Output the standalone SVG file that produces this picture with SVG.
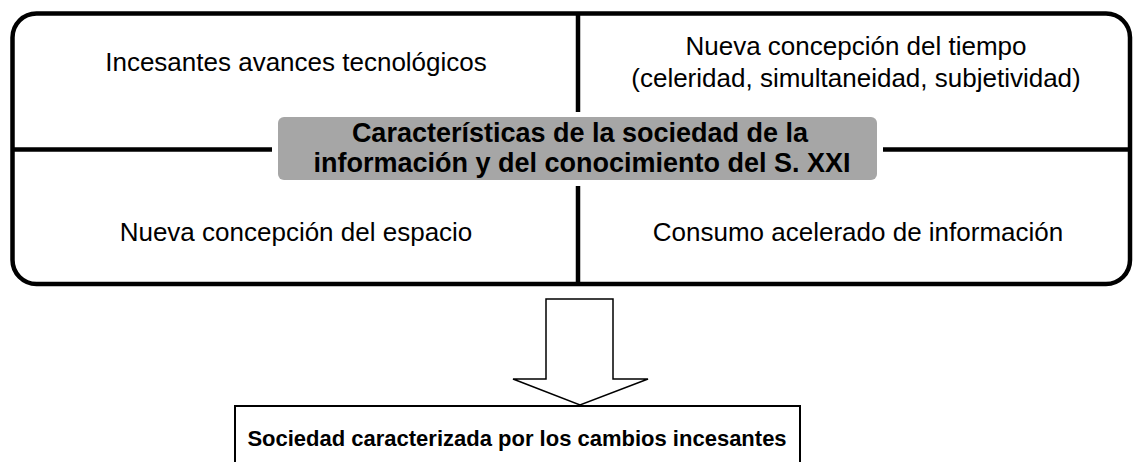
<svg xmlns="http://www.w3.org/2000/svg" width="1135" height="462" viewBox="0 0 1135 462">
<style>
.t{font-family:"Liberation Sans",Arial,sans-serif;font-size:26px;fill:#000;text-anchor:middle}
.b{font-weight:bold;font-size:27px}
.s{font-weight:bold;font-size:22px}
.frame{fill:#fff;stroke:#000;stroke-width:4.5}
.div{stroke:#000;stroke-width:4.5;fill:none}
</style>
<rect width="1135" height="462" fill="#fff"/>
<g id="frame">
<rect class="frame" x="12.5" y="13.5" width="1117.5" height="270.5" rx="24"/>
</g>
<g id="connectors">
<line class="div" x1="578" y1="13.5" x2="578" y2="112"/>
<line class="div" x1="578" y1="186" x2="578" y2="284"/>
<line class="div" x1="12.5" y1="149.5" x2="272" y2="149.5"/>
<line class="div" x1="883" y1="149.5" x2="1130" y2="149.5"/>
<path id="arrow" d="M546,299 H613 V379 H648 L580,405 L513,379 H546 Z" fill="#fff" stroke="#000" stroke-width="1.5" stroke-linejoin="miter"/>
</g>
<g id="cell-tl">
<text class="t" x="296" y="71">Incesantes avances tecnológicos</text>
</g>
<g id="cell-tr">
<text class="t" x="856" y="55">Nueva concepción del tiempo</text>
<text class="t" x="856" y="87">(celeridad, simultaneidad, subjetividad)</text>
</g>
<g id="cell-bl">
<text class="t" x="296" y="241">Nueva concepción del espacio</text>
</g>
<g id="cell-br">
<text class="t" x="858" y="241">Consumo acelerado de información</text>
</g>
<g id="center">
<rect x="278" y="117" width="599" height="63" rx="6" fill="#a6a6a6"/>
<text class="t b" x="580" y="142">Características de la sociedad de la</text>
<text class="t b" x="582" y="172">información y del conocimiento del S. XXI</text>
</g>
<g id="result">
<path d="M235,462 V406 H800 V462" fill="none" stroke="#000" stroke-width="2"/>
<text class="t s" x="517" y="446">Sociedad caracterizada por los cambios incesantes</text>
</g>
</svg>
